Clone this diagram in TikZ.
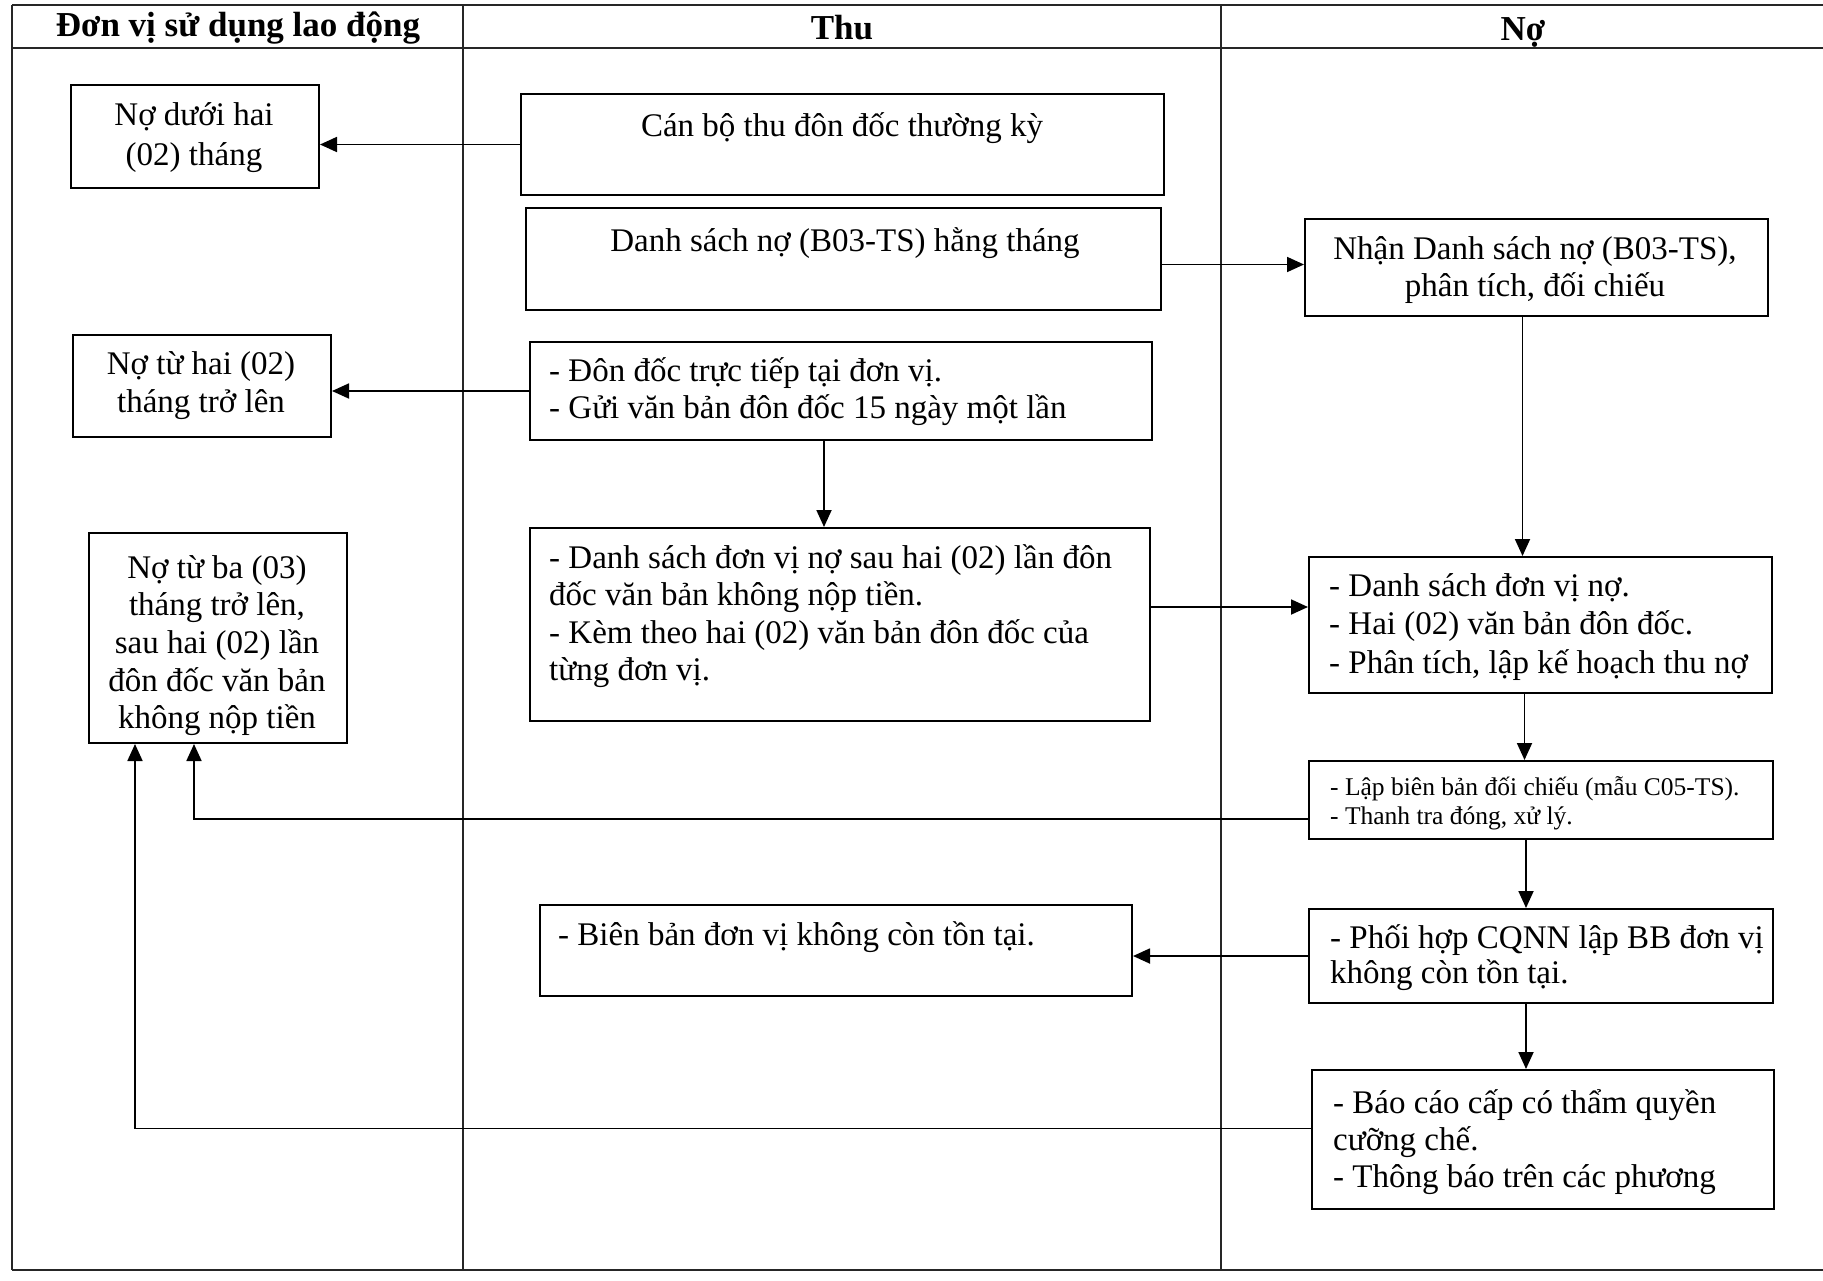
\documentclass[tikz,border=0pt]{standalone}
\usepackage{fontspec}
\setmainfont{Liberation Serif}
\usetikzlibrary{arrows.meta}
\newcommand{\Lft}[1]{\vtop{\lineskiplimit=-100pt\halign{##\hfil\cr#1\crcr}}}
\newcommand{\Ctr}[1]{\vtop{\lineskiplimit=-100pt\halign{\hfil##\hfil\cr#1\crcr}}}
\tikzset{
  frame/.style={line width=1.8pt, draw=black!85},
  box/.style={draw, line width=2pt, inner sep=0pt, anchor=north west},
  txt/.style={font=\fontsize{33}{37.5}\selectfont, inner sep=0pt, anchor=base west},
  ctxt/.style={font=\fontsize{33}{40}\selectfont, inner sep=0pt, anchor=base},
  smalltxt/.style={font=\fontsize{25.5}{29.5}\selectfont, inner sep=0pt, anchor=base west},
  hdr/.style={font=\fontsize{35}{40}\selectfont\bfseries, inner sep=0pt, anchor=base},
  arr/.style={-{Triangle[length=17pt,width=15pt]}, line width=1.8pt}
}
\begin{document}
\begin{tikzpicture}[x=1pt,y=-1pt]
\useasboundingbox (0,0) rectangle (1823,1280);
% frame
\draw[frame] (12,5) -- (1823,5);
\draw[frame] (12,48) -- (1823,48);
\draw[frame] (12,1270) -- (1823,1270);
\draw[frame] (12,5) -- (12,1270);
\draw[frame] (463,5) -- (463,1270);
\draw[frame] (1221,5) -- (1221,1270);
% headers
\node[hdr] (h1) at (238,36) {Đơn vị sử dụng lao động};
\node[hdr] (h2) at (842,39) {Thu};
\node[hdr] (h3) at (1523,40) {Nợ};
% boxes
\node[box, minimum width=248pt, minimum height=103pt] (b1) at (70,84) {};
\node[box, minimum width=643pt, minimum height=101pt] (b2) at (520,93) {};
\node[box, minimum width=635pt, minimum height=102pt] (b3) at (525,207) {};
\node[box, minimum width=463pt, minimum height=97pt] (b4) at (1304,218) {};
\node[box, minimum width=258pt, minimum height=102pt] (b5) at (72,334) {};
\node[box, minimum width=622pt, minimum height=98pt] (b6) at (529,341) {};
\node[box, minimum width=258pt, minimum height=210pt] (b7) at (88,532) {};
\node[box, minimum width=620pt, minimum height=193pt] (b8) at (529,527) {};
\node[box, minimum width=463pt, minimum height=136pt] (b9) at (1308,556) {};
\node[box, minimum width=464pt, minimum height=78pt] (b10) at (1308,760) {};
\node[box, minimum width=592pt, minimum height=91pt] (b11) at (539,904) {};
\node[box, minimum width=464pt, minimum height=94pt] (b12) at (1308,908) {};
\node[box, minimum width=462pt, minimum height=139pt] (b13) at (1311,1069) {};
% texts
\node[ctxt] (t1) at (194,125) {\Ctr{Nợ dưới hai\cr (02) tháng}};
\node[ctxt] (t2) at (842,136) {Cán bộ thu đôn đốc thường kỳ};
\node[ctxt] (t3) at (845,251) {Danh sách nợ (B03-TS) hằng tháng};
\node[ctxt, font=\fontsize{33}{37}\selectfont] (t4) at (1535,259) {\Ctr{Nhận Danh sách nợ (B03-TS),\cr phân tích, đối chiếu}};
\node[ctxt, font=\fontsize{33}{38}\selectfont] (t5) at (201,374) {\Ctr{Nợ từ hai (02)\cr tháng trở lên}};
\node[txt] (t6) at (549,381) {\Lft{- Đôn đốc trực tiếp tại đơn vị.\cr - Gửi văn bản đôn đốc 15 ngày một lần}};
\node[ctxt, font=\fontsize{33}{37.7}\selectfont] (t7) at (217,578) {\Ctr{Nợ từ ba (03)\cr tháng trở lên,\cr sau hai (02) lần\cr đôn đốc văn bản\cr không nộp tiền}};
\node[txt] (t8) at (549,568) {\Lft{- Danh sách đơn vị nợ sau hai (02) lần đôn\cr đốc văn bản không nộp tiền.\cr - Kèm theo hai (02) văn bản đôn đốc của\cr từng đơn vị.}};
\node[txt, font=\fontsize{33}{38.5}\selectfont] (t9) at (1329,596) {\Lft{- Danh sách đơn vị nợ.\cr - Hai (02) văn bản đôn đốc.\cr - Phân tích, lập kế hoạch thu nợ}};
\node[smalltxt] (t10) at (1330,795) {\Lft{- Lập biên bản đối chiếu (mẫu C05-TS).\cr - Thanh tra đóng, xử lý.}};
\node[txt] (t11) at (558,945) {- Biên bản đơn vị không còn tồn tại.};
\node[txt, font=\fontsize{33}{35}\selectfont] (t12) at (1330,948) {\Lft{- Phối hợp CQNN lập BB đơn vị\cr không còn tồn tại.}};
\node[txt, font=\fontsize{33}{37}\selectfont] (t13) at (1333,1113) {\Lft{- Báo cáo cấp có thẩm quyền\cr cưỡng chế.\cr - Thông báo trên các phương}};
% connectors
\draw[arr] (b2.west) -- (b2.west -| b1.east);
\draw[arr] ([yshift=3pt]b4.west -| b3.east) -- ([yshift=3pt]b4.west);
\draw[arr] ([xshift=-14pt]b4.south) -- ([xshift=-14pt]b4.south |- b9.north);
\draw[arr] (b6.west) -- (b6.west -| b5.east);
\draw[arr] ([xshift=-17pt]b6.south) -- ([xshift=-17pt]b6.south |- b8.north);
\draw[arr] ([yshift=18pt]b9.west -| b8.east) -- ([yshift=18pt]b9.west);
\draw[arr] ([xshift=-16pt]b9.south) -- ([xshift=-16pt]b9.south |- b10.north);
\draw[arr] ([yshift=-19pt]b10.west) -| ([xshift=-24pt]b7.south);
\draw[arr] ([xshift=-15pt]b10.south) -- ([xshift=-15pt]b10.south |- b12.north);
\draw[arr] (b12.west) -- (b12.west -| b11.east);
\draw[arr] ([xshift=-15pt]b12.south) -- ([xshift=-15pt]b12.south |- b13.north);
\draw[arr] ([yshift=11pt]b13.west) -| ([xshift=-83pt]b7.south);
\end{tikzpicture}
\end{document}
